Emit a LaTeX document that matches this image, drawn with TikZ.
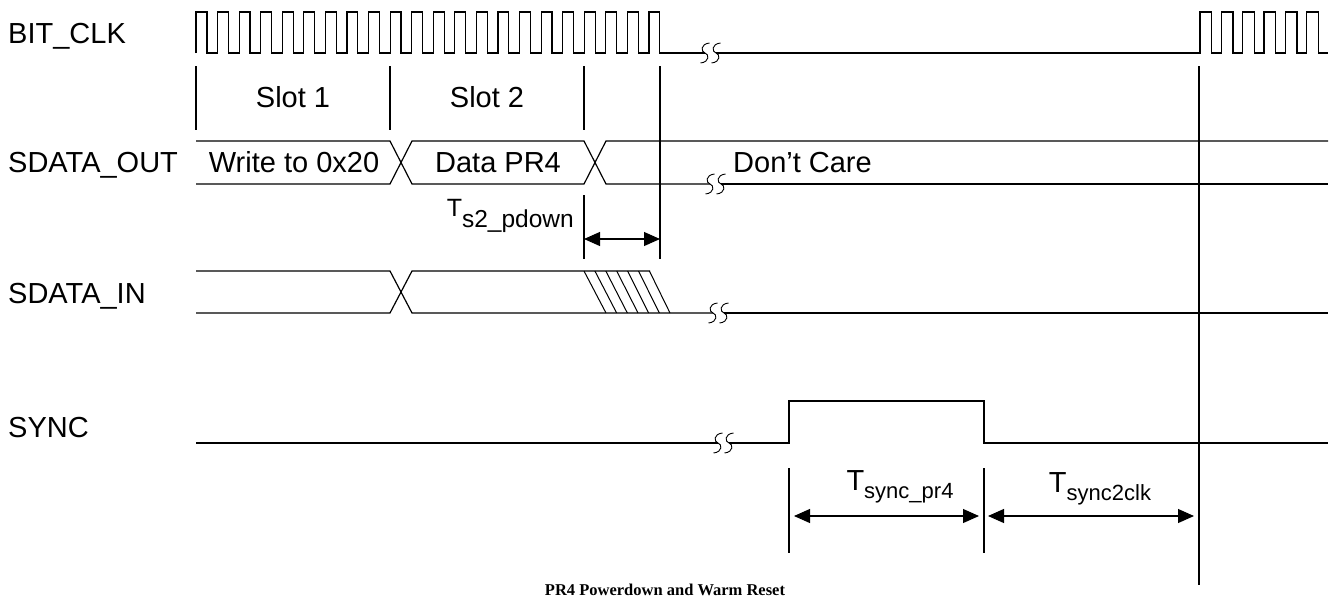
\documentclass[tikz,border=0pt]{standalone}
\usepackage{fontspec}
\setmainfont{Liberation Sans}
\newfontfamily\capfont{Liberation Serif}
\usetikzlibrary{arrows.meta}
\tikzset{
  sig/.style={line width=1.2pt, line join=miter},
  tick/.style={line width=1.1pt},
  lbl/.style={inner sep=0pt, font=\fontsize{29}{33}\selectfont},
  sublbl/.style={inner sep=0pt, font=\fontsize{29}{33}\selectfont},
  smalllbl/.style={inner sep=0pt, font=\fontsize{25}{29}\selectfont},
  dimarrow/.style={line width=1.1pt, {Triangle[length=16pt,width=14pt]}-{Triangle[length=16pt,width=14pt]}},
  brk/.pic={\draw[line width=0.9pt] (4.5,-10) .. controls (-5,-9) and (-4,-1) .. (0,0) .. controls (4,1) and (5,9) .. (-4.5,10);}
}
\newcommand{\subsz}{\fontsize{22}{25}\selectfont}
\begin{document}
\begin{tikzpicture}[x=1pt,y=-1pt]
\useasboundingbox (0,0) rectangle (1330,603);
% ---- signal names
\node[lbl, anchor=base west] (nclk) at (8,43) {BIT\_CLK};
\node[lbl, anchor=base west] (nout) at (8,172) {SDATA\_OUT};
\node[lbl, anchor=base west] (nin)  at (8,303) {SDATA\_IN};
\node[lbl, anchor=base west] (nsync) at (8,437) {SYNC};
% ---- BIT_CLK
\draw[sig] (196,53) \foreach \k in {0,...,21} { -- ({196+21.57*\k},53) -- ({196+21.57*\k},12) -- ({206.9+21.57*\k},12) -- ({206.9+21.57*\k},53) } -- (705,53);
\draw[sig] (716,53) -- (1200,53) \foreach \k in {0,...,5} { -- ({1200+21.33*\k},53) -- ({1200+21.33*\k},12) -- ({1211.6+21.33*\k},12) -- ({1211.6+21.33*\k},53) } -- (1328,53);
\pic at (705,53) {brk}; \pic at (716,53) {brk};
% ---- slot ticks and vertical markers
\coordinate (s0) at (196,66); \coordinate (s1) at (390,66); \coordinate (s2) at (584,66);
\coordinate (pd) at (660,66); \coordinate (ck) at (1199,66);
\draw[tick] (s0) -- (196,130);
\draw[tick] (s1) -- (390,130);
\draw[tick] (s2) -- (584,130);
\draw[tick] (pd) -- (660,259);
\draw[tick] (ck) -- (1199,585);
\node[lbl] (slot1) at (293,97) {Slot 1};
\node[lbl] (slot2) at (487,97) {Slot 2};
% ---- SDATA_OUT
\draw[sig] (196,141) -- (390,141) -- (412,184) -- (584,184) -- (606,141) -- (1328,141);
\draw[sig] (196,184) -- (390,184) -- (412,141) -- (584,141) -- (606,184) -- (710,184);
\draw[sig] (721,184) -- (1328,184);
\pic at (710,184) {brk}; \pic at (721,184) {brk};
\node[lbl, anchor=base] (w20) at (294,172) {Write to 0x20};
\node[lbl, anchor=base] (dpr4) at (498,172) {Data PR4};
\node[lbl, anchor=base west] (dc) at (733,172) {Don’t Care};
% ---- Ts2_pdown
\draw[tick] (584,195) -- (584,259);
\coordinate (pa) at (584,239); \coordinate (pb) at (660,239);
\draw[dimarrow] (pa) -- (pb);
\node[smalllbl, anchor=base east] (tpd) at (574,216) {T\raisebox{-11pt}{\fontsize{24.5}{28}\selectfont s2\_pdown}};
% ---- SDATA_IN
\draw[sig] (196,271) -- (390,271) -- (412,313) -- (713,313);
\draw[sig] (724,313) -- (1328,313);
\draw[sig] (196,313) -- (390,313) -- (412,271) -- (650,271);
\foreach \i in {0,...,6} { \draw[line width=1pt] ({584+10.9*\i},271) -- ({606+10.67*\i},313); }
\pic at (713,313) {brk}; \pic at (724,313) {brk};
% ---- SYNC
\draw[sig] (196,443) -- (718,443);
\draw[sig] (729,443) -- (789,443) -- (789,401) -- (984,401) -- (984,443) -- (1328,443);
\pic at (718,443) {brk}; \pic at (729,443) {brk};
% ---- bottom dimensions
\draw[tick] (789,468) -- (789,553);
\draw[tick] (984,468) -- (984,553);
\coordinate (da) at (789,516); \coordinate (db) at (984,516); \coordinate (dc2) at (1199,516);
\draw[dimarrow, shorten <=5pt, shorten >=5pt] (da) -- (db);
\draw[dimarrow, shorten <=4pt, shorten >=5pt] (db) -- (dc2);
\node[sublbl, anchor=base] (tsp) at (900,490) {T\raisebox{-8pt}{\subsz sync\_pr4}};
\node[sublbl, anchor=base] (tsc) at (1100,492) {T\raisebox{-8pt}{\subsz sync2clk}};
% ---- caption
\node[inner sep=0pt, font=\capfont\bfseries\fontsize{16.5}{19}\selectfont] (cap) at (665,590) {PR4 Powerdown and Warm Reset};
\end{tikzpicture}
\end{document}
